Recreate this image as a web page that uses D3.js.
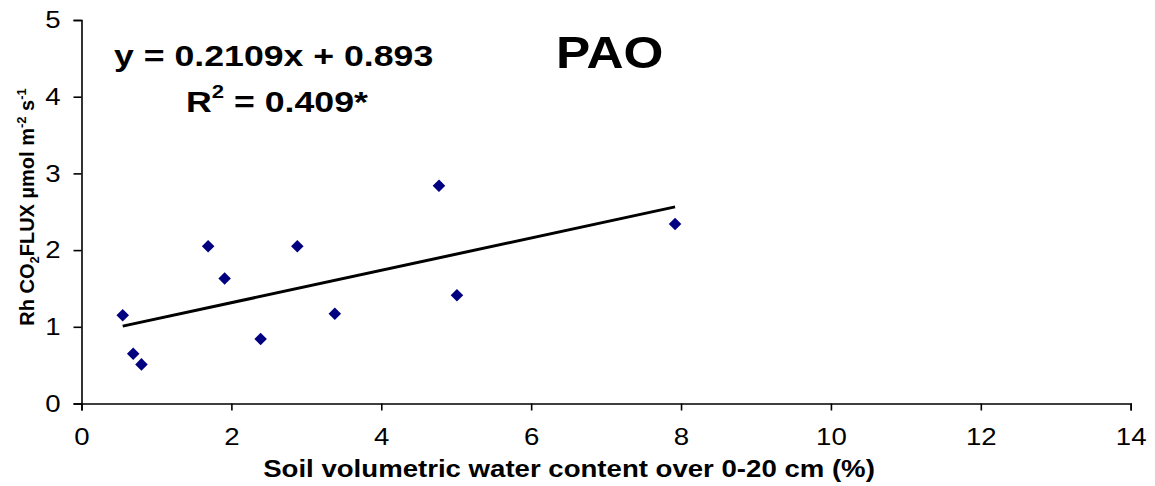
<!DOCTYPE html>
<html><head><meta charset="utf-8">
<script src="https://cdn.jsdelivr.net/npm/d3@7"></script>
<style>body{margin:0;background:#fff}svg{display:block}text{font-family:"Liberation Sans",Arial,sans-serif}</style>
</head><body>
<svg id="c" width="1155" height="486"></svg>
<script>
const waterContent = [0.55, 0.69, 0.80, 1.69, 1.91, 2.39, 2.88, 3.38, 4.77, 5.01, 7.92];
const rhFlux       = [1.15, 0.65, 0.51, 2.05, 1.63, 0.84, 2.05, 1.17, 2.84, 1.41, 2.34];
const slope = 0.2109, intercept = 0.893;
const xTicks = [0, 2, 4, 6, 8, 10, 12, 14];
const yTicks = [0, 1, 2, 3, 4, 5];
const equationLabel = "y = 0.2109x + 0.893";
const r2Value = "0.409*";
const titleLabel = "PAO";
const xTitle = "Soil volumetric water content over 0-20 cm (%)";

const FONT = '"Liberation Sans",Arial,sans-serif';
const svg = d3.select("#c");
const x = d3.scaleLinear().domain([0, 14]).range([81.5, 1130.7]);
const y = d3.scaleLinear().domain([0, 5]).range([403.5, 20]);

const xAxis = svg.append("g").attr("transform", "translate(0,403.5)")
  .call(d3.axisBottom(x).tickValues(xTicks).tickSize(7).tickPadding(17).tickFormat(d3.format("d")));
const yAxis = svg.append("g").attr("transform", "translate(81.5,0)")
  .call(d3.axisLeft(y).tickValues(yTicks).tickSize(8).tickPadding(13).tickFormat(d3.format("d")));
[xAxis, yAxis].forEach(g => {
  g.select(".domain").attr("stroke", "#000").attr("stroke-width", 1.6);
  g.selectAll(".tick line").attr("stroke", "#000").attr("stroke-width", 1.6);
  g.selectAll(".tick text").attr("fill", "#000").style("font-size", "24px").style("font-family", FONT);
});
xAxis.selectAll(".tick text").attr("dy", "0.71em");
// widen tick labels slightly (reference glyphs are horizontally stretched)
[xAxis, yAxis].forEach(g => g.selectAll(".tick text").each(function () {
  const w = this.getComputedTextLength();
  d3.select(this).attr("textLength", w * 1.15).attr("lengthAdjust", "spacingAndGlyphs");
}));

// regression line
const xr = d3.extent(waterContent);
svg.append("line")
  .attr("x1", x(xr[0])).attr("y1", y(slope * xr[0] + intercept))
  .attr("x2", x(xr[1])).attr("y2", y(slope * xr[1] + intercept))
  .attr("stroke", "#000").attr("stroke-width", 3);

// points
const sym = d3.symbol().type(d3.symbolDiamond2).size(100);
svg.append("g").selectAll("path").data(waterContent.map((d, i) => [d, rhFlux[i]]))
  .join("path")
  .attr("transform", d => `translate(${x(d[0])},${y(d[1])})`)
  .attr("d", sym).attr("fill", "#000080");

// stretched text helper
function label(px, py, sx, anchor) {
  return svg.append("g").attr("transform", `translate(${px},${py}) scale(${sx},1)`)
    .append("text").attr("text-anchor", anchor).attr("font-weight", "bold");
}
label(114, 66, 1.23, "start").style("font-size", "29px").text(equationLabel);
const r2 = label(186, 112, 1.23, "start").style("font-size", "29px");
r2.append("tspan").text("R");
r2.append("tspan").attr("dy", -14).style("font-size", "18px").text("2");
r2.append("tspan").attr("dy", 14).text(" = " + r2Value);
label(556, 68, 1.14, "start").style("font-size", "45px").text(titleLabel);
label(569, 477, 1.2, "middle").style("font-size", "23px").text(xTitle);

const yt = svg.append("text").attr("transform", "translate(34,207) rotate(-90)")
  .attr("text-anchor", "middle").attr("font-weight", "bold").style("font-size", "20px");
yt.append("tspan").text("Rh CO");
yt.append("tspan").attr("dy", 5).style("font-size", "13px").text("2");
yt.append("tspan").attr("dy", -5).text("FLUX µmol m");
yt.append("tspan").attr("dy", -8).style("font-size", "13px").text("-2");
yt.append("tspan").attr("dy", 8).text(" s");
yt.append("tspan").attr("dy", -8).style("font-size", "13px").text("-1");
</script>
</body></html>
